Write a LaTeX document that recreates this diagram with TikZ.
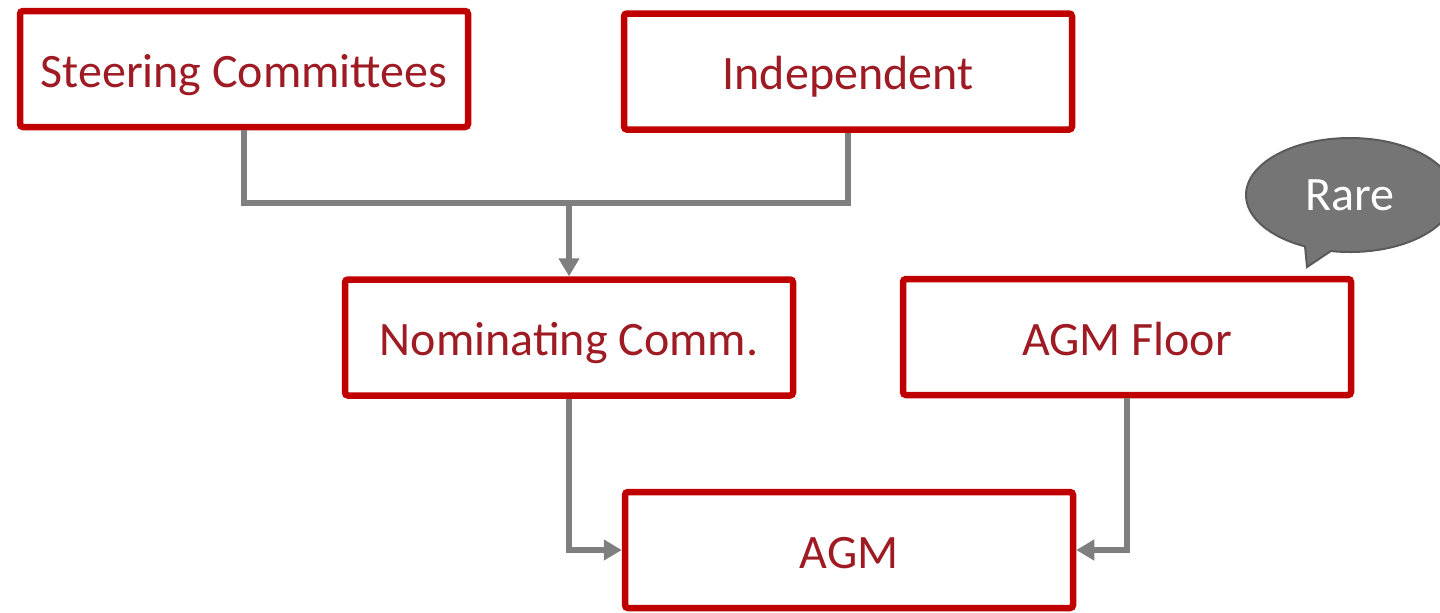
\documentclass[tikz,border=0pt]{standalone}
\usepackage{fontspec}
\setmainfont{Carlito}
\usetikzlibrary{arrows.meta,shapes.callouts}
\definecolor{boxred}{HTML}{C00000}
\definecolor{txtred}{HTML}{9E1B24}
\definecolor{linegray}{HTML}{7F7F7F}
\definecolor{bubblegray}{HTML}{757575}
\definecolor{bubbleedge}{HTML}{5A5A5A}
\begin{document}
\begin{tikzpicture}[x=0.5pt,y=-0.5pt,
  box/.style={draw=boxred,line width=3.25pt,fill=white,rounded corners=1.5pt,
    minimum width=224pt,minimum height=58pt,inner sep=0pt,
    text height=18pt,text depth=0pt,
    text=txtred,font=\fontsize{24}{28}\selectfont},
  conn/.style={draw=linegray,line width=2.75pt},
  arr/.style={conn,-{Triangle[length=9pt,width=10pt]}}]
\useasboundingbox (0,0) rectangle (1440,612);
\node[box] (sc) at (244,69) {Steering Committees};
\node[box] (ind) at (848,71.5) {Independent};
\node[box] (nom) at (569,337.5) {Nominating Comm.};
\node[box] (floor) at (1127,337) {AGM Floor};
\node[box] (agm) at (849,550) {AGM};
\coordinate (mid) at (569,203);
\coordinate (tip) at (1307,267);
\draw[conn] (sc.south) |- (mid) -| (ind.south);
\draw[arr] (mid) -- (nom.north);
\draw[arr] (nom.south) |- (agm.west);
\draw[arr] (floor.south) |- (agm.east);
\node[ellipse callout,draw=bubbleedge,line width=1pt,fill=bubblegray,
  minimum width=104pt,minimum height=57pt,text=white,
  font=\fontsize{24}{28}\selectfont,callout absolute pointer={(tip)}]
  (rare) at (1350,195) {Rare};
\end{tikzpicture}
\end{document}
